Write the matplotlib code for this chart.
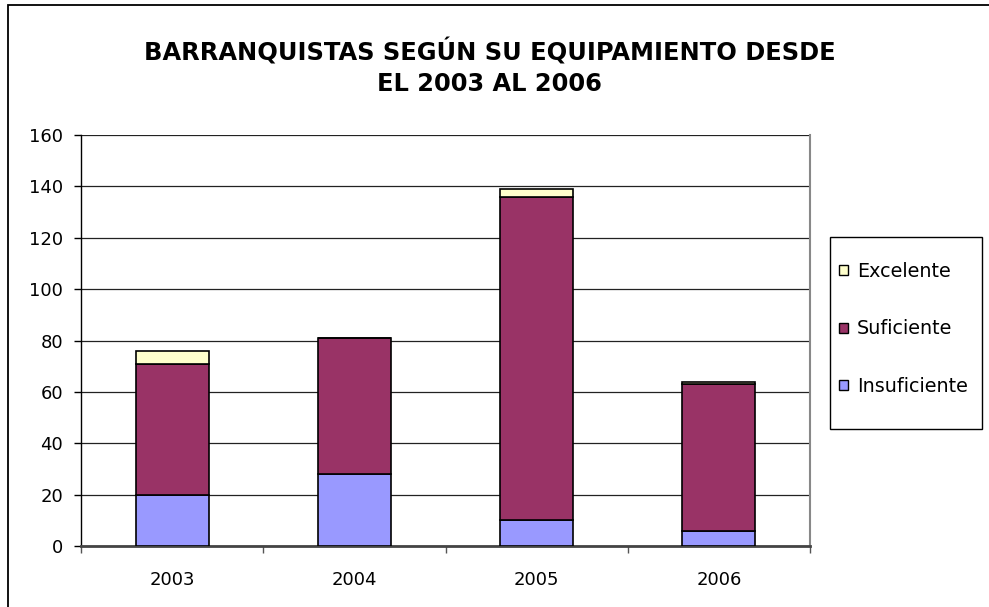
import numpy as np
import matplotlib
matplotlib.use('Agg')
import matplotlib.pyplot as plt
from matplotlib.patches import Patch, Rectangle

# values
years = ['2003', '2004', '2005', '2006']
insuficiente = [20, 28, 10, 6]
suficiente = [51, 53, 126, 57]
excelente = [5, 0, 3, 1]

series_names = ['Excelente', 'Suficiente', 'Insuficiente']
colors = {'Insuficiente': '#9999FF', 'Suficiente': '#993366', 'Excelente': '#FFFFCC'}

plt.rcParams['font.family'] = ['DejaVu Sans']

fig = plt.figure(figsize=(9.89, 6.07), dpi=100)
ax = fig.add_axes([81 / 989, 61 / 607, 729 / 989, 411 / 607])

x = np.arange(len(years))
w = 0.4
ins = np.array(insuficiente)
suf = np.array(suficiente)
exc = np.array(excelente)
ax.bar(x, ins, w, color=colors['Insuficiente'], edgecolor='black', linewidth=1.2, zorder=3)
ax.bar(x, suf, w, bottom=ins, color=colors['Suficiente'], edgecolor='black', linewidth=1.2, zorder=3)
ax.bar(x, exc, w, bottom=ins + suf, color=colors['Excelente'], edgecolor='black', linewidth=1.2, zorder=3)

ax.set_xlim(-0.5, len(years) - 0.5)
ax.set_ylim(0, 160)
ax.set_yticks(np.arange(0, 161, 20))
ax.tick_params(axis='y', labelsize=13, length=5, width=1, pad=8, direction='out')
ax.set_xticks(x)
ax.set_xticklabels(years)
ax.set_xticks(np.arange(-0.5, len(years), 1.0), minor=True)
ax.tick_params(axis='x', which='major', length=0, labelsize=13, pad=18)
ax.tick_params(axis='x', which='minor', length=5, width=1, color='#555555')

ax.yaxis.grid(True, color='#222222', linewidth=0.9, zorder=0)
ax.set_axisbelow(True)
ax.spines['top'].set_visible(False)
ax.spines['left'].set_color('black')
ax.spines['left'].set_linewidth(1)
ax.spines['bottom'].set_color('#444444')
ax.spines['bottom'].set_linewidth(2)
ax.spines['right'].set_color('#888888')
ax.spines['right'].set_linewidth(1.5)

fig.text(0.495, 1 - 67 / 607, 'BARRANQUISTAS SEGÚN SU EQUIPAMIENTO DESDE\nEL 2003 AL 2006',
         ha='center', va='center', fontsize=17.4, fontweight='bold', linespacing=1.35)

# legend box drawn separately so its size matches the original
fig.patches.append(Rectangle((830 / 989, 1 - 429 / 607), 152 / 989, 192 / 607,
                             transform=fig.transFigure, fill=False,
                             edgecolor='black', linewidth=1))
handles = [Patch(facecolor=colors[n], edgecolor='black', linewidth=1) for n in series_names]
fig.legend(handles, series_names, loc='center left',
           bbox_to_anchor=(839 / 989, 1 - 329 / 607), fontsize=13.8,
           frameon=False, handlelength=0.45, handleheight=0.45, handletextpad=0.5,
           labelspacing=2.0, borderpad=0, borderaxespad=0)

# outer chart frame
fig.patches.append(Rectangle((8 / 989, -0.1), 1.2, 1.1 - 5 / 607, transform=fig.transFigure,
                             fill=False, edgecolor='black', linewidth=1.3))

fig.savefig('out.png', dpi=100)
